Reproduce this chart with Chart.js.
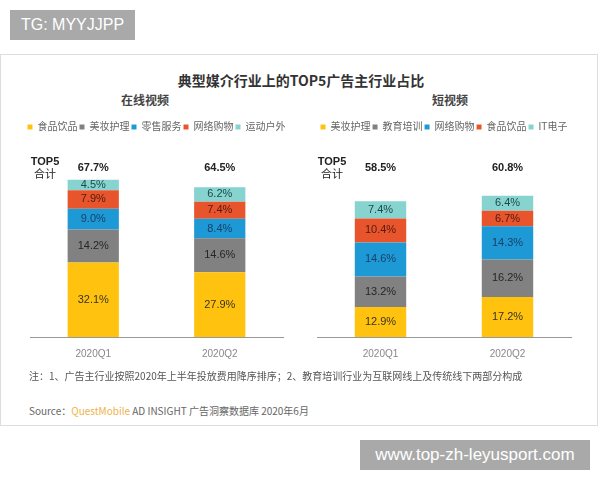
<!DOCTYPE html>
<html>
<head>
<meta charset="utf-8">
<script src="https://cdn.jsdelivr.net/npm/chart.js@4.4.1/dist/chart.umd.min.js"></script>
<style>
  body { margin: 0; width: 600px; height: 480px; position: relative; background: #fff; overflow: hidden;
         font-family: 'Noto Sans CJK SC', sans-serif; }
  .tag { position: absolute; background: #a9a9a9; color: #fff; font-family: 'Liberation Sans', sans-serif;
         text-align: center; }
  #frame { position: absolute; left: 0; top: 54px; width: 596px; height: 370px; border: 1px solid #ddd; }
  .txt { position: absolute; white-space: nowrap; }
  canvas { position: absolute; }
</style>
</head>
<body>
<div class="tag" style="left:10px;top:10px;width:125px;height:30px;line-height:30px;font-size:16px;">TG: MYYJJPP</div>
<div id="frame"></div>
<div class="txt" style="left:0;width:602px;top:70px;line-height:20px;text-align:center;font-size:14px;font-weight:bold;color:#333;">典型媒介行业上的TOP5广告主行业占比</div>
<div class="txt" style="left:95px;width:100px;top:91px;line-height:18px;text-align:center;font-size:12px;font-weight:bold;color:#444;">在线视频</div>
<div class="txt" style="left:400px;width:100px;top:91px;line-height:18px;text-align:center;font-size:12px;font-weight:bold;color:#444;">短视频</div>

<canvas id="videoChart" width="273" height="251" style="left:20px;top:120px;"></canvas>
<canvas id="shortChart" width="274" height="251" style="left:307px;top:120px;"></canvas>

<div class="txt" style="left:29px;top:368px;line-height:16px;font-size:10px;color:#555;">注：1、广告主行业按照2020年上半年投放费用降序排序；2、教育培训行业为互联网线上及传统线下两部分构成</div>
<div class="txt" style="left:29px;top:403px;line-height:16px;font-size:10px;color:#666;">Source：<span style="color:#f0b24a;">QuestMobile</span> AD INSIGHT 广告洞察数据库 2020年6月</div>
<div class="tag" style="left:360px;top:440px;width:230px;height:30px;line-height:30px;font-size:17px;">www.top-zh-leyusport.com</div>

<script>
var quarters = ['2020Q1', '2020Q2'];

// 在线视频
var videoNames = ['食品饮品', '美妆护理', '零售服务', '网络购物', '运动户外'];
var videoFood = [32.1, 27.9];
var videoBeauty = [14.2, 14.6];
var videoRetail = [9.0, 8.4];
var videoShopping = [7.9, 7.4];
var videoSports = [4.5, 6.2];

// 短视频
var shortNames = ['美妆护理', '教育培训', '网络购物', '食品饮品', 'IT电子'];
var shortBeauty = [12.9, 17.2];
var shortEducation = [13.2, 16.2];
var shortShopping = [14.6, 14.3];
var shortFood = [10.4, 6.7];
var shortIT = [7.4, 6.4];

var colors = ['#ffc30f', '#818181', '#1d9ad6', '#e8552d', '#86d3cf'];
var labelColors = ['#3a3320', '#262626', '#1b3f68', '#4f1b10', '#1d4a48'];

Chart.defaults.font.family = "'Liberation Sans', 'Noto Sans CJK SC', sans-serif";

var barLabels = {
    id: 'barLabels',
    afterDatasetsDraw: function(chart) {
        var ctx = chart.ctx,
            area = chart.chartArea;
        ctx.save();
        ctx.textAlign = 'center';
        ctx.textBaseline = 'middle';
        ctx.font = "11px 'Liberation Sans', sans-serif";
        var totals = [0, 0];
        chart.data.datasets.forEach(function(ds, i) {
            var meta = chart.getDatasetMeta(i);
            meta.data.forEach(function(bar, j) {
                totals[j] += ds.data[j];
                ctx.fillStyle = labelColors[i];
                ctx.fillText(ds.data[j].toFixed(1) + '%', bar.x, (bar.y + bar.base) / 2);
            });
        });
        // TOP5 totals above the bars
        ctx.fillStyle = '#222';
        ctx.font = "bold 11px 'Liberation Sans', sans-serif";
        chart.getDatasetMeta(0).data.forEach(function(bar, j) {
            ctx.fillText(totals[j].toFixed(1) + '%', bar.x, area.top + 26);
        });
        ctx.fillText('TOP5', area.left + 15, area.top + 20);
        ctx.font = "11px 'Noto Sans CJK SC', sans-serif";
        ctx.fillText('合计', area.left + 15, area.top + 32);
        ctx.restore();
    }
};

function makeDatasets(names, series) {
    return names.map(function(name, i) {
        return {
            label: name,
            data: series[i],
            backgroundColor: colors[i],
            borderWidth: 0,
            barPercentage: 0.81,
            categoryPercentage: 0.5
        };
    });
}

// invisible side axes just to inset the plot area from the legend width
function sideAxis(pos) {
    return {
        position: pos,
        display: true,
        grid: { display: false, drawTicks: false },
        border: { display: false },
        ticks: { display: false },
        afterFit: function(scale) { scale.width = 10; }
    };
}

var options = {
    responsive: false,
    animation: false,
    layout: { padding: 0 },
    plugins: {
        legend: {
            position: 'top',
            labels: { boxWidth: 5, boxHeight: 5, padding: 2, color: '#666', font: { size: 10 } }
        },
        tooltip: { enabled: false }
    },
    scales: {
        x: {
            stacked: true,
            grid: { display: false, drawTicks: false },
            border: { color: '#999', width: 1 },
            ticks: { color: '#888', font: { size: 10 }, padding: 11 }
        },
        y: Object.assign(sideAxis('left'), { stacked: true, min: 0, max: 84 }),
        y2: Object.assign(sideAxis('right'), { type: 'linear' })
    }
};

var videoChart = new Chart(document.getElementById('videoChart').getContext('2d'), {
    type: 'bar',
    data: {
        labels: quarters,
        datasets: makeDatasets(videoNames, [videoFood, videoBeauty, videoRetail, videoShopping, videoSports])
    },
    options: options,
    plugins: [barLabels]
});

var shortChart = new Chart(document.getElementById('shortChart').getContext('2d'), {
    type: 'bar',
    data: {
        labels: quarters,
        datasets: makeDatasets(shortNames, [shortBeauty, shortEducation, shortShopping, shortFood, shortIT])
    },
    options: options,
    plugins: [barLabels]
});
</script>
</body>
</html>
